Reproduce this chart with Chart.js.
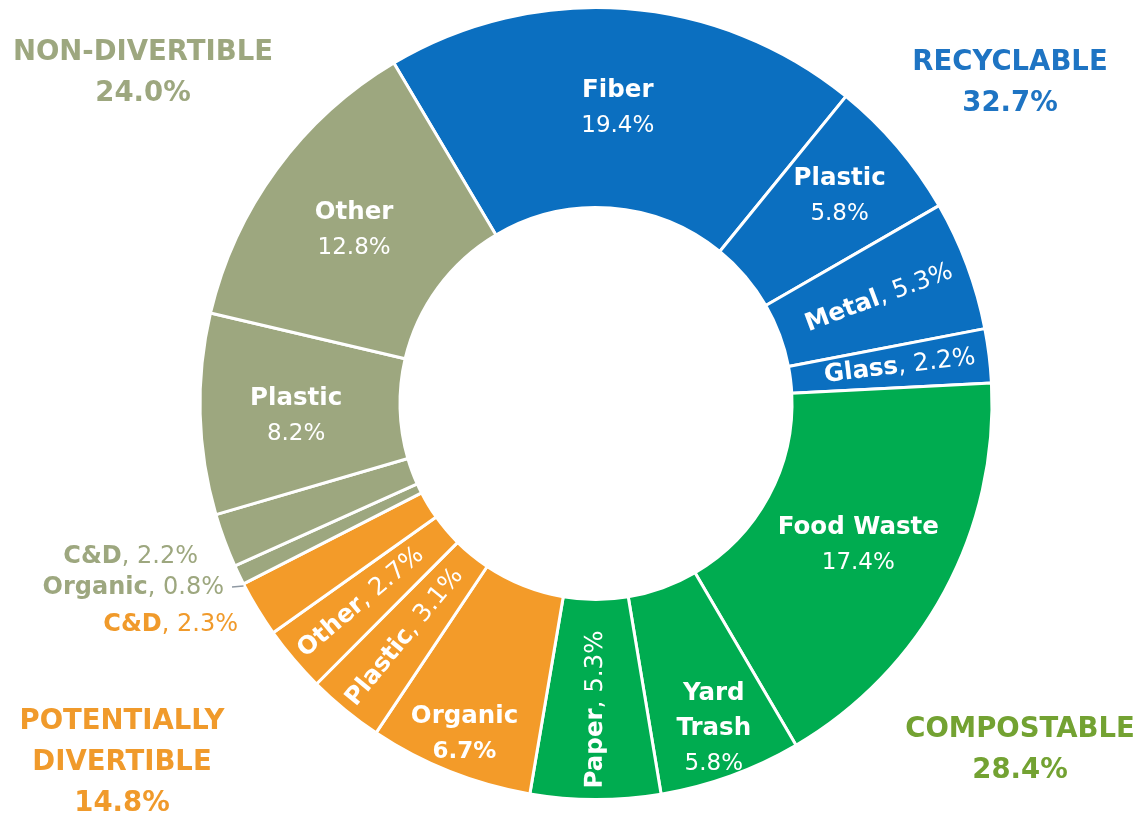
<!DOCTYPE html>
<html>
<head>
<meta charset="utf-8">
<script src="https://cdn.jsdelivr.net/npm/chart.js@4.4.1/dist/chart.umd.min.js"></script>
<style>
  html, body { margin: 0; padding: 0; background: #ffffff; }
  #contenedor { width: 1142px; height: 816px; position: relative; }
</style>
</head>
<body>
<div id="contenedor"><canvas id="myChart" width="1142" height="816"></canvas></div>
<script>
// Datos del gráfico
const categorias = ['Fiber', 'Plastic', 'Metal', 'Glass', 'Food Waste', 'Yard Trash', 'Paper',
    'Organic', 'Plastic', 'Other', 'C&D', 'Organic', 'C&D', 'Plastic', 'Other'];
const valores = [19.4, 5.8, 5.3, 2.2, 17.4, 5.8, 5.3, 6.7, 3.1, 2.7, 2.3, 0.8, 2.2, 8.2, 12.8];
const grupoDeCadaUno = [0, 0, 0, 0, 1, 1, 1, 2, 2, 2, 2, 3, 3, 3, 3];
const grupos = ['RECYCLABLE', 'COMPOSTABLE', 'POTENTIALLY DIVERTIBLE', 'NON-DIVERTIBLE'];
const totalesGrupo = [32.7, 28.4, 14.8, 24.0];

// Colores
const coloresGrupo = ['#0B6FC0', '#00AC50', '#F39B29', '#9DA77F'];
const coloresTextoGrupo = ['#1E74C3', '#73A232', '#F09A2B', '#9DA77F'];

const FUENTE = '"DejaVu Sans", sans-serif';

// Estilo de cada etiqueta: modo, distancia radial (0 = borde interior, 1 = exterior)
const estilos = [
    { modo: 'pila', t: 0.50 },
    { modo: 'pila', t: 0.62 },
    { modo: 'radial', t: 0.53 },
    { modo: 'radial', t: 0.55 },
    { modo: 'pila', t: 0.51 },
    { modo: 'pila', t: 0.75, partir: true },
    { modo: 'radial', t: 0.55 },
    { modo: 'pila', t: 0.80, negrita: true },
    { modo: 'radial', t: 0.53 },
    { modo: 'radial', t: 0.56 },
    { modo: 'fuera', x: 238, y: 625 },
    { modo: 'fuera', x: 224, y: 588, guia: true },
    { modo: 'fuera', x: 198, y: 557 },
    { modo: 'pila', t: 0.52, dy: 5 },
    { modo: 'pila', t: 0.52, dy: 4 }
];

// Posición de los títulos de grupo
const titulosGrupo = [
    { x: 1010, y: 63, lineas: ['RECYCLABLE'] },
    { x: 1020, y: 730, lineas: ['COMPOSTABLE'] },
    { x: 122, y: 722, lineas: ['POTENTIALLY', 'DIVERTIBLE'] },
    { x: 143, y: 53, lineas: ['NON-DIVERTIBLE'] }
];

function pct(v) {
    return v.toFixed(1) + '%';
}

const pluginEtiquetas = {
    id: 'etiquetas',
    afterDatasetsDraw(chart) {
        const ctx = chart.ctx;
        const meta = chart.getDatasetMeta(0);
        ctx.save();
        ctx.textBaseline = 'middle';

        meta.data.forEach((arco, i) => {
            const p = arco.getProps(['x', 'y', 'startAngle', 'endAngle', 'innerRadius', 'outerRadius'], true);
            const medio = (p.startAngle + p.endAngle) / 2;
            const est = estilos[i];
            const nombre = categorias[i];
            const valor = pct(valores[i]);

            if (est.modo === 'fuera') {
                const color = coloresTextoGrupo[grupoDeCadaUno[i]];
                ctx.fillStyle = color;
                ctx.textAlign = 'left';
                ctx.font = 'normal 24px ' + FUENTE;
                const wValor = ctx.measureText(', ' + valor).width;
                ctx.font = 'bold 24px ' + FUENTE;
                const wNombre = ctx.measureText(nombre).width;
                const x0 = est.x - wValor - wNombre;
                ctx.fillText(nombre, x0, est.y);
                ctx.font = 'normal 24px ' + FUENTE;
                ctx.fillText(', ' + valor, x0 + wNombre, est.y);
                if (est.guia) {
                    ctx.strokeStyle = '#8F99A3';
                    ctx.lineWidth = 1.5;
                    ctx.beginPath();
                    ctx.moveTo(est.x + 8, est.y - 1);
                    ctx.lineTo(p.x + Math.cos(p.startAngle) * p.outerRadius, est.y - 2);
                    ctx.stroke();
                }
                return;
            }

            const r = p.innerRadius + est.t * (p.outerRadius - p.innerRadius);
            const cx = p.x + Math.cos(medio) * r;
            const cy = p.y + Math.sin(medio) * r + (est.dy || 0);
            ctx.fillStyle = '#ffffff';

            if (est.modo === 'radial') {
                let giro = medio;
                let a = ((medio % (2 * Math.PI)) + 2 * Math.PI) % (2 * Math.PI);
                if (a > Math.PI / 2 && a < 3 * Math.PI / 2) giro = medio - Math.PI;
                ctx.translate(cx, cy);
                ctx.rotate(giro);
                ctx.font = 'bold 24.5px ' + FUENTE;
                const wNombre = ctx.measureText(nombre).width;
                ctx.font = 'normal 24.5px ' + FUENTE;
                const wValor = ctx.measureText(', ' + valor).width;
                const x0 = -(wNombre + wValor) / 2;
                ctx.textAlign = 'left';
                ctx.font = 'bold 24.5px ' + FUENTE;
                ctx.fillText(nombre, x0, 0);
                ctx.font = 'normal 24.5px ' + FUENTE;
                ctx.fillText(', ' + valor, x0 + wNombre, 0);
                ctx.setTransform(1, 0, 0, 1, 0, 0);
                return;
            }

            // modo pila: nombre en negrita arriba, porcentaje abajo
            const lineas = est.partir ? nombre.split(' ') : [nombre];
            const alto = 35.5;
            const total = lineas.length + 1;
            let y = cy - (total - 1) * alto / 2;
            ctx.textAlign = 'center';
            ctx.font = 'bold 24.5px ' + FUENTE;
            lineas.forEach(l => {
                ctx.fillText(l, cx, y);
                y += alto;
            });
            ctx.font = (est.negrita ? 'bold ' : 'normal ') + '23px ' + FUENTE;
            ctx.fillText(valor, cx, y);
        });

        // Títulos de cada grupo
        titulosGrupo.forEach((tg, g) => {
            ctx.fillStyle = coloresTextoGrupo[g];
            ctx.textAlign = 'center';
            ctx.font = 'bold 27.5px ' + FUENTE;
            let y = tg.y;
            tg.lineas.forEach(l => {
                ctx.fillText(l, tg.x, y);
                y += 41;
            });
            ctx.fillText(pct(totalesGrupo[g]), tg.x, y);
        });

        ctx.restore();
    }
};

const ctx = document.getElementById('myChart').getContext('2d');

new Chart(ctx, {
    type: 'doughnut',
    data: {
        labels: categorias,
        datasets: [{
            data: valores,
            backgroundColor: grupoDeCadaUno.map(g => coloresGrupo[g]),
            borderColor: '#ffffff',
            borderWidth: 3
        }]
    },
    options: {
        responsive: false,
        animation: false,
        rotation: -30.7,
        cutout: '49.5%',
        layout: {
            padding: { left: 50, right: 0, top: 6, bottom: 15 }
        },
        plugins: {
            legend: { display: false },
            tooltip: { enabled: false }
        }
    },
    plugins: [pluginEtiquetas]
});
</script>
</body>
</html>
